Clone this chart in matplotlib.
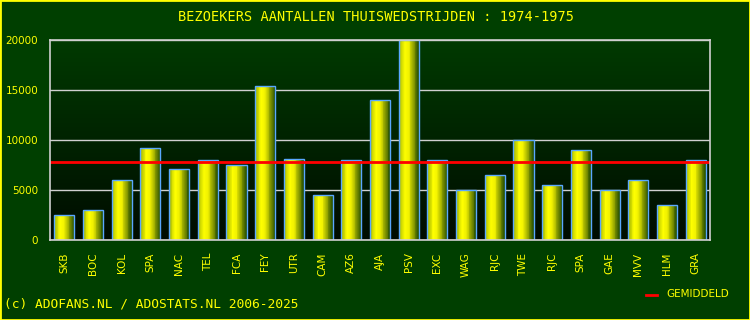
import numpy as np
import matplotlib.pyplot as plt
from matplotlib.colors import LinearSegmentedColormap

# attendance per home match, season 1974-1975
teams = ['SKB', 'BOC', 'KOL', 'SPA', 'NAC', 'TEL', 'FCA', 'FEY', 'UTR', 'CAM', 'AZ6', 'AJA',
         'PSV', 'EXC', 'WAG', 'RJC', 'TWE', 'RJC', 'SPA', 'GAE', 'MVV', 'HLM', 'GRA']
visitors = [2500, 3000, 6000, 9200, 7100, 8000, 7500, 15400, 8100, 4500, 8000, 14000,
            20000, 8000, 5000, 6500, 10000, 5500, 9000, 5000, 6000, 3500, 8000]
average = np.mean(visitors)

bg = '#003f00'
fig = plt.figure(figsize=(7.5, 3.2), dpi=100, facecolor=bg)
ax = fig.add_axes([50 / 750, 80 / 320, 660 / 750, 200 / 320])

# plot area gradient: dark green on top to almost black at bottom
grad = np.linspace(0, 1, 256).reshape(-1, 1)
bg_cmap = LinearSegmentedColormap.from_list('bg', ['#000c00', '#003a00'])
ax.imshow(grad, cmap=bg_cmap, aspect='auto', extent=[-0.5, len(teams) - 0.5, 0, 20000],
          origin='lower', zorder=0)

bar_cmap = LinearSegmentedColormap.from_list(
    'bar', [(0.0, '#a0b400'), (0.3, '#ffff00'), (0.5, '#f0f000'), (0.75, '#8a9c00'), (1.0, '#1e4800')])

x = np.arange(len(teams))
width = 0.7
# horizontal gradient in each bar, drawn as thin vertical strips
n_strips = 24
sw = width / n_strips
for i in range(n_strips):
    ax.bar(x - width / 2 + i * sw, visitors, width=sw * 1.05, align='edge',
           color=bar_cmap((i + 0.5) / n_strips), linewidth=0, zorder=2)
ax.bar(x, visitors, width=width, facecolor='none', edgecolor='#5aa8ff', linewidth=1.0, zorder=3)

ax.axhline(average, color='#ff0000', linewidth=2, zorder=4)

ax.set_xlim(-0.5, len(teams) - 0.5)
ax.set_ylim(0, 20000)
ax.set_yticks([0, 5000, 10000, 15000, 20000])
ax.set_axisbelow(True)
ax.yaxis.grid(True, color='#d0d0d0', linewidth=1)
for line in ax.get_ygridlines():
    line.set_zorder(1)
for s in ax.spines.values():
    s.set_color('#d0d0d0')
    s.set_linewidth(1.2)
    s.set_zorder(5)
ax.set_xticks(x)
ax.set_xticklabels(teams, rotation=90)
ax.tick_params(axis='x', colors='#ffff00', labelsize=7.5, length=0, pad=9)
ax.tick_params(axis='y', colors='#ffff00', labelsize=7.5, length=0, pad=8.5)

fig.text(376 / 750, 1 - 17 / 320, 'BEZOEKERS AANTALLEN THUISWEDSTRIJDEN : 1974-1975',
         color='#ffff00', fontsize=9.8, family='DejaVu Sans Mono', ha='center', va='center')
fig.text(4 / 750, 1 - 304 / 320, '(c) ADOFANS.NL / ADOSTATS.NL 2006-2025',
         color='#ffff00', fontsize=9.3, family='DejaVu Sans Mono', ha='left', va='center')
fig.lines.append(plt.Line2D([646 / 750, 657 / 750], [1 - 295 / 320, 1 - 295 / 320],
                            color='#ff0000', linewidth=2, transform=fig.transFigure))
fig.text(666 / 750, 1 - 294 / 320, 'GEMIDDELD', color='#ffff00', fontsize=7.5,
         ha='left', va='center')

# yellow frame round the picture
fig.patches.append(plt.Rectangle((0, 0), 1, 1, transform=fig.transFigure, fill=False,
                                 edgecolor='#ffff00', linewidth=2))

fig.savefig('out.png', dpi=100, facecolor=bg)
